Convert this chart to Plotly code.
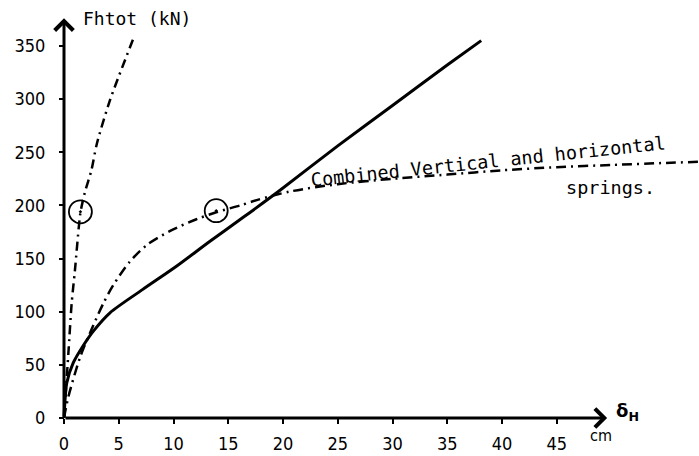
import plotly.graph_objects as go

# ---- data ----
solid_x = [0, 0.25, 0.85, 1.75, 2.7, 4.2, 7.2, 10.3, 13.3, 16.4, 19.7, 25, 30, 35, 38.1]
solid_y = [0, 33, 52, 68, 82, 99, 121, 143, 166, 189, 214, 256, 294, 332, 355]

combined_x = [0, 0.4, 1.5, 2.5, 3.6, 4.5, 6.0, 7.6, 9.7, 12.1, 13.9, 16.1, 17.6, 20.6, 25, 30, 35, 40, 45, 50, 55, 58]
combined_y = [0, 20, 58, 83, 108, 125, 147, 163, 176, 187, 193.5, 200, 205, 213, 220, 225, 229, 233, 236, 238, 240, 241]

steep_x = [0, 0.4, 0.7, 1.0, 1.5, 1.9, 2.5, 3.0, 4.2, 6.3]
steep_y = [0, 61, 108, 139, 193, 212, 233, 258, 299, 356]

circle_x = [1.5, 13.9]
circle_y = [194, 195]

x_ticks = [0, 5, 10, 15, 20, 25, 30, 35, 40, 45]
y_ticks = [0, 50, 100, 150, 200, 250, 300, 350]

y_axis_top = 376
x_axis_end = 49.6

y_title = "Fhtot (kN)"
x_symbol = "<b>δ</b><sub><b>H</b></sub>"
x_unit = "cm"
curve_label = "Combined Vertical and horizontal"
curve_label2 = "springs."

# ---- figure ----
W, H = 699, 456
ML, MB = 50, 28
x0_px, px_per_x = 64, 10.95
y0_px, px_per_y = 418, 1.063

x_range = [(ML - x0_px) / px_per_x, (W - x0_px) / px_per_x]
y_range = [(y0_px - (H - MB)) / px_per_y, y0_px / px_per_y]


def paper_y(py):
    return ((H - MB) - py) / (H - MB)


mono = "DejaVu Sans Mono, Liberation Mono, monospace"
tickfont = dict(family="DejaVu Sans Condensed, DejaVu Sans, sans-serif", size=18, color="black")

fig = go.Figure()

fig.add_trace(go.Scatter(x=steep_x, y=steep_y, mode="lines",
                         line=dict(color="black", width=2.5, dash="9px,5px,2px,5px",
                                   shape="spline", smoothing=0.7),
                         hoverinfo="skip"))
fig.add_trace(go.Scatter(x=combined_x, y=combined_y, mode="lines",
                         line=dict(color="black", width=2.5, dash="10px,5px,2px,5px",
                                   shape="spline", smoothing=0.8),
                         hoverinfo="skip"))
fig.add_trace(go.Scatter(x=solid_x, y=solid_y, mode="lines",
                         line=dict(color="black", width=3, shape="spline", smoothing=0.7),
                         hoverinfo="skip"))
fig.add_trace(go.Scatter(x=circle_x, y=circle_y, mode="markers",
                         marker=dict(symbol="circle-open-dot", size=23, color="black",
                                     line=dict(width=1.8, color="black")),
                         hoverinfo="skip"))

# axis lines with arrowheads
fig.add_annotation(x=0, y=y_axis_top, ax=0, ay=0, xref="x", yref="y", axref="x", ayref="y",
                   text="", showarrow=True, arrowhead=4, arrowsize=1.2, arrowwidth=3, arrowcolor="black")
fig.add_annotation(x=x_axis_end, y=0, ax=0, ay=0, xref="x", yref="y", axref="x", ayref="y",
                   text="", showarrow=True, arrowhead=4, arrowsize=1.2, arrowwidth=3, arrowcolor="black")

fig.add_annotation(x=6.67, y=376, xref="x", yref="y", text=y_title, showarrow=False,
                   font=dict(family=mono, size=18, color="black"))
fig.add_annotation(x=51.5, y=5.6, xref="x", yref="y", text=x_symbol, showarrow=False,
                   font=dict(family="DejaVu Sans, sans-serif", size=18, color="black"))
fig.add_annotation(x=49.0, y=paper_y(435), xref="x", yref="paper", text=x_unit, showarrow=False,
                   xanchor="center", yanchor="middle",
                   font=dict(family="DejaVu Sans Condensed, DejaVu Sans, sans-serif", size=16, color="black"))
fig.add_annotation(x=38.7, y=241, xref="x", yref="y", text=curve_label, showarrow=False,
                   textangle=-6, font=dict(family=mono, size=18.5, color="black"))
fig.add_annotation(x=49.95, y=217, xref="x", yref="y", text=curve_label2, showarrow=False,
                   font=dict(family=mono, size=18.5, color="black"))

fig.update_layout(
    width=W, height=H,
    margin=dict(l=ML, r=0, t=0, b=MB),
    paper_bgcolor="white", plot_bgcolor="white",
    showlegend=False,
    xaxis=dict(range=x_range, tickvals=x_ticks, ticktext=[str(v) for v in x_ticks],
               showgrid=False, zeroline=False, showline=False,
               ticks="outside", ticklen=5, tickwidth=2, tickcolor="black",
               tickfont=tickfont, anchor="free",
               position=(H - y0_px - MB) / (H - MB), ticklabelstandoff=4),
    yaxis=dict(range=y_range, tickvals=y_ticks, ticktext=[str(v) for v in y_ticks],
               showgrid=False, zeroline=False, showline=False,
               ticks="outside", ticklen=5, tickwidth=2, tickcolor="black",
               tickfont=tickfont, anchor="free",
               position=(x0_px - ML) / (W - ML), ticklabelstandoff=10),
)

fig.write_html("out.html")
